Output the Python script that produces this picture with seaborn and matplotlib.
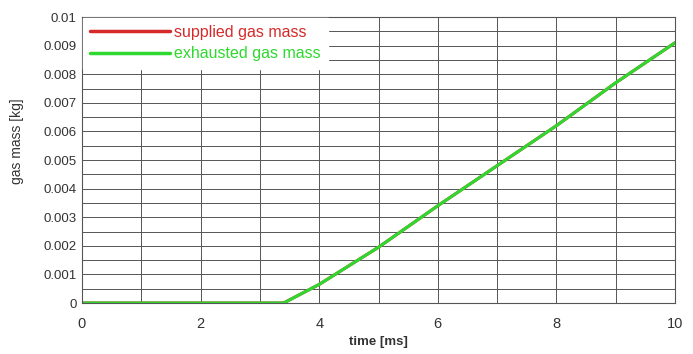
import numpy as np
import pandas as pd
import matplotlib
matplotlib.use("Agg")
import matplotlib.pyplot as plt
import seaborn as sns
from matplotlib.ticker import MultipleLocator, FuncFormatter

# time [ms] and cumulative gas mass [kg]
time_ms = [0.0, 1.0, 2.0, 3.0, 3.4, 4.0, 5.0, 6.0, 7.0, 8.0, 9.0, 10.0]
supplied_kg = [0.0, 0.0, 0.0, 0.0, 0.0, 0.00065, 0.00195, 0.0034, 0.0048, 0.0062, 0.0077, 0.0091]
exhausted_kg = [0.0, 0.0, 0.0, 0.0, 0.0, 0.00065, 0.00195, 0.0034, 0.0048, 0.0062, 0.0077, 0.0091]

series_names = ["supplied gas mass", "exhausted gas mass"]
series_colors = ["#d42a2a", "#2ed82e"]

df = pd.concat([
    pd.DataFrame({"time": time_ms, "mass": supplied_kg, "series": series_names[0]}),
    pd.DataFrame({"time": time_ms, "mass": exhausted_kg, "series": series_names[1]}),
])

sns.set_theme(style="white")
plt.rcParams["font.family"] = ["Liberation Sans", "DejaVu Sans"]

fig = plt.figure(figsize=(6.93, 3.54), dpi=100)
ax = fig.add_axes([82 / 693, 1 - 303 / 354, (675 - 82) / 693, (303 - 17) / 354])

sns.lineplot(data=df, x="time", y="mass", hue="series", palette=series_colors,
             hue_order=series_names, linewidth=2.2, ax=ax, legend=True)

ax.set_xlim(0, 10)
ax.set_ylim(0, 0.01)
ax.xaxis.set_major_locator(MultipleLocator(2))
ax.xaxis.set_minor_locator(MultipleLocator(1))
ax.yaxis.set_major_locator(MultipleLocator(0.001))
ax.yaxis.set_minor_locator(MultipleLocator(0.0005))
ax.yaxis.set_major_formatter(FuncFormatter(lambda v, _: "0" if abs(v) < 1e-9 else f"{round(v, 4):g}"))
ax.grid(True, which="both", color="#555555", linewidth=0.7)
ax.set_axisbelow(True)
for s in ax.spines.values():
    s.set_color("#555555")
    s.set_linewidth(0.8)

ax.tick_params(axis="both", which="both", length=0, labelsize=9.5, colors="#333333")
ax.tick_params(axis="x", which="both", pad=10, labelsize=10.5)
ax.tick_params(axis="y", which="both", pad=4)
ax.set_xlabel("time [ms]", fontsize=9.5, fontweight="bold", color="#333333", labelpad=4)
ax.set_ylabel("")
fig.text(17 / 693, 1 - 141 / 354, "gas mass [kg]", rotation=90, ha="center", va="center",
         fontsize=10, color="#333333")

leg = ax.legend(loc="upper left", frameon=True, fancybox=False, framealpha=1.0,
                edgecolor="white", fontsize=11.5, handlelength=5.0, handletextpad=0.25,
                borderaxespad=0.05, borderpad=0.45, labelspacing=0.4)
for line in leg.get_lines():
    line.set_linewidth(2.5)
for txt, c in zip(leg.get_texts(), series_colors):
    txt.set_color(c)

fig.savefig("out.png", dpi=100)
